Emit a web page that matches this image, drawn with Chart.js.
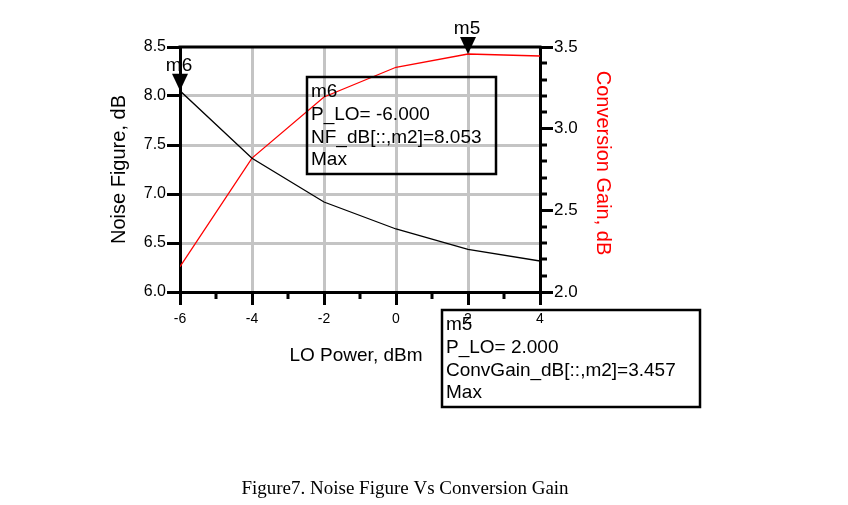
<!DOCTYPE html>
<html><head><meta charset="utf-8">
<script src="https://cdn.jsdelivr.net/npm/chart.js@4"></script>
<style>html,body{margin:0;padding:0;background:#fff;} #wrap{width:848px;height:505px;position:relative;}</style>
</head><body><div id="wrap"><canvas id="c" width="848" height="505"></canvas></div>
<script>
// ---- data ----
const loPower = [-6, -4, -2, 0, 2, 4];
const noiseFigure = [8.053, 7.365, 6.918, 6.643, 6.436, 6.316];
const convGain = [2.155, 2.820, 3.194, 3.376, 3.457, 3.445];
const xTicks = [-6, -4, -2, 0, 2, 4];
const xMinorTicks = [-5, -3, -1, 1, 3];
const nfTicks = [6.0, 6.5, 7.0, 7.5, 8.0, 8.5];
const cgTicks = [2.0, 2.5, 3.0, 3.5];
const cgMinorTicks = [2.1, 2.2, 2.3, 2.4, 2.6, 2.7, 2.8, 2.9, 3.1, 3.2, 3.3, 3.4];
const markerNames = ['m6', 'm5'];
const markerX = [-6, 2];
const markerSeries = ['nf', 'cg'];
const markerExpr = ['NF_dB[::,m2]', 'ConvGain_dB[::,m2]'];

const FONT = '"Liberation Sans", Arial, sans-serif';
const SERIF = '"Liberation Serif", "Times New Roman", serif';

function seriesValue(s, xv) {
  const i = loPower.indexOf(xv);
  return s === 'nf' ? noiseFigure[i] : convGain[i];
}

const deco = {
  id: 'deco',
  afterDraw(chart) {
    const {ctx, chartArea: a, scales} = chart;
    const x = scales.x, y = scales.y, y2 = scales.y2;
    ctx.save();
    const line = (x1, y1, x2, y2_, w, c) => {
      ctx.strokeStyle = c || '#000'; ctx.lineWidth = w || 3;
      ctx.beginPath(); ctx.moveTo(x1, y1); ctx.lineTo(x2, y2_); ctx.stroke();
    };
    // top border
    line(a.left - 1.5, a.top, a.right + 1.5, a.top, 3);
    // minor ticks
    xMinorTicks.forEach(v => { const px = Math.round(x.getPixelForValue(v)); line(px, a.bottom, px, a.bottom + 7, 3); });
    cgMinorTicks.forEach(v => { const py = Math.round(y2.getPixelForValue(v)); line(a.right, py, a.right + 7, py, 3); });

    // axis titles
    ctx.fillStyle = '#000';
    ctx.font = '20px ' + FONT;
    ctx.textAlign = 'center'; ctx.textBaseline = 'middle';
    ctx.save(); ctx.translate(119, (a.top + a.bottom) / 2); ctx.rotate(-Math.PI / 2);
    ctx.fillText('Noise Figure, dB', 0, 0); ctx.restore();
    ctx.fillStyle = '#ff0000';
    ctx.save(); ctx.translate(603, 163); ctx.rotate(Math.PI / 2);
    ctx.fillText('Conversion Gain, dB', 0, 0); ctx.restore();
    ctx.fillStyle = '#000';
    ctx.font = '19px ' + FONT; ctx.textBaseline = 'alphabetic';
    ctx.fillText('LO Power, dBm', 356, 361);

    // markers
    markerNames.forEach((name, i) => {
      const sc = markerSeries[i] === 'nf' ? y : y2;
      const px = x.getPixelForValue(markerX[i]);
      const py = sc.getPixelForValue(seriesValue(markerSeries[i], markerX[i]));
      ctx.fillStyle = '#000';
      ctx.beginPath(); ctx.moveTo(px, py); ctx.lineTo(px - 8, py - 17); ctx.lineTo(px + 8, py - 17); ctx.closePath(); ctx.fill();
      ctx.font = '19px ' + FONT; ctx.textAlign = 'center'; ctx.textBaseline = 'alphabetic';
      ctx.fillText(name, px - 1, py - 20);
    });

    // marker readout boxes
    const boxes = [{l: 307, t: 77, w: 189, h: 97}, {l: 442, t: 310, w: 258, h: 97}];
    markerNames.forEach((name, i) => {
      const b = boxes[i];
      ctx.strokeStyle = '#000'; ctx.lineWidth = 2.5;
      ctx.strokeRect(b.l, b.t, b.w, b.h);
      const v = seriesValue(markerSeries[i], markerX[i]);
      const lines = [name, 'P_LO= ' + markerX[i].toFixed(3), markerExpr[i] + '=' + v.toFixed(3), 'Max'];
      ctx.fillStyle = '#000'; ctx.font = '19px ' + FONT; ctx.textAlign = 'left'; ctx.textBaseline = 'alphabetic';
      lines.forEach((s, k) => ctx.fillText(s, b.l + 4, b.t + 20 + k * 22.8));
    });

    // caption
    ctx.font = '19px ' + SERIF; ctx.textAlign = 'center';
    ctx.fillText('Figure7. Noise Figure Vs Conversion Gain', 405, 494);
    ctx.restore();
  }
};

const GRID = '#c4c4c4';
new Chart(document.getElementById('c'), {
  type: 'line',
  data: {
    datasets: [
      {label: 'NF_dB', data: loPower.map((v, i) => ({x: v, y: noiseFigure[i]})), yAxisID: 'y',
       borderColor: '#000', borderWidth: 1.3, pointRadius: 0, tension: 0},
      {label: 'ConvGain_dB', data: loPower.map((v, i) => ({x: v, y: convGain[i]})), yAxisID: 'y2',
       borderColor: '#ff0000', borderWidth: 1.3, pointRadius: 0, tension: 0}
    ]
  },
  options: {
    responsive: false, animation: false, devicePixelRatio: 1,
    layout: {padding: {left: 130, right: 258, top: 47, bottom: 173}},
    plugins: {legend: {display: false}, tooltip: {enabled: false}},
    scales: {
      x: {
        type: 'linear', position: 'bottom', min: -6, max: 4,
        afterBuildTicks: s => { s.ticks = xTicks.map(v => ({value: v})); },
        afterFit: s => { s.height = 40; },
        ticks: {color: '#000', font: {family: FONT, size: 14}, padding: 6, callback: v => String(v)},
        grid: {color: c => (c.tick && (c.tick.value === -6 || c.tick.value === 4)) ? 'rgba(0,0,0,0)' : GRID,
               lineWidth: 3, tickColor: '#000', tickLength: 13, tickWidth: 3},
        border: {display: true, color: '#000', width: 3}
      },
      y: {
        type: 'linear', position: 'left', min: 6, max: 8.5,
        afterBuildTicks: s => { s.ticks = nfTicks.map(v => ({value: v})); },
        afterFit: s => { s.width = 50; },
        ticks: {color: '#000', font: {family: FONT, size: 16}, padding: 1, callback: v => Number(v).toFixed(1)},
        grid: {color: c => (c.tick && (c.tick.value === 6 || c.tick.value === 8.5)) ? 'rgba(0,0,0,0)' : GRID,
               lineWidth: 3, tickColor: '#000', tickLength: 13, tickWidth: 3},
        border: {display: true, color: '#000', width: 3}
      },
      y2: {
        type: 'linear', position: 'right', min: 2, max: 3.5,
        afterBuildTicks: s => { s.ticks = cgTicks.map(v => ({value: v})); },
        afterFit: s => { s.width = 50; },
        ticks: {color: '#000', font: {family: FONT, size: 17}, padding: 1, callback: v => Number(v).toFixed(1)},
        grid: {drawOnChartArea: false, tickColor: '#000', tickLength: 13, tickWidth: 3},
        border: {display: true, color: '#000', width: 3}
      }
    }
  },
  plugins: [deco]
});
</script></body></html>
